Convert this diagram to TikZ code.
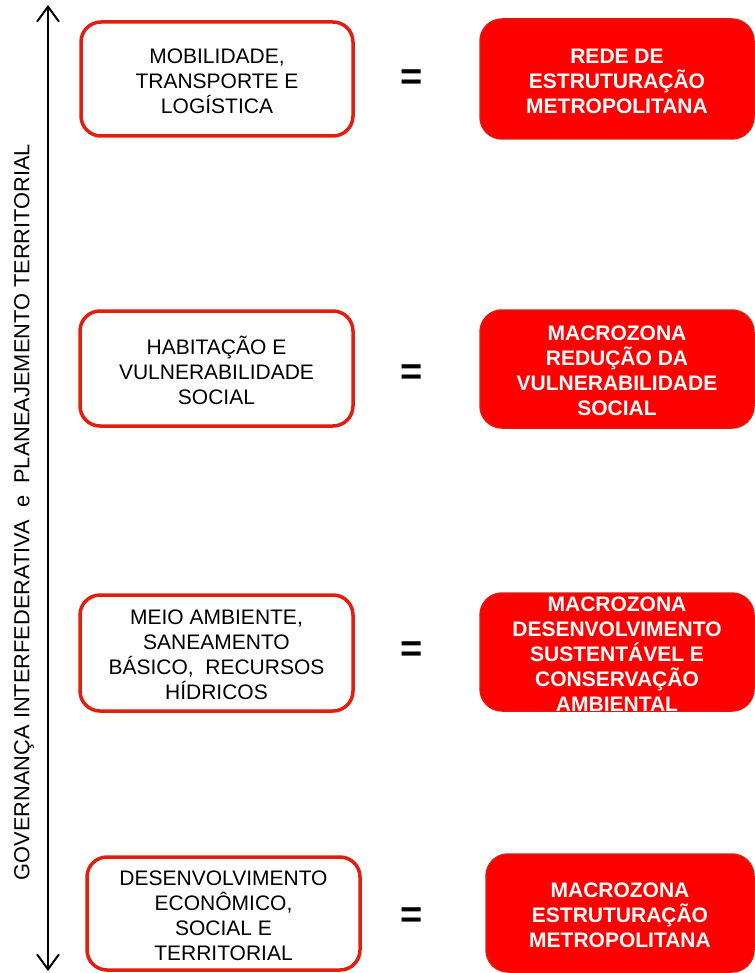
\documentclass[tikz,border=0pt]{standalone}
\usepackage{fontspec}
\setmainfont{Liberation Sans}
\usetikzlibrary{arrows.meta}
\definecolor{boxred}{RGB}{228,30,14}
\definecolor{fillred}{RGB}{255,0,0}
\definecolor{edgered}{RGB}{225,25,10}
\tikzset{
  leftbox/.style={draw=boxred, line width=3.5pt, rounded corners=20pt, fill=white, inner sep=0pt},
  redbox/.style={draw=edgered, fill=fillred, line width=1.5pt, rounded corners=22pt, inner sep=0pt},
  lefttext/.style={font=\fontsize{21}{25}\selectfont, align=center, inner sep=0pt, text=black, yshift=-2pt},
  redtext/.style={font=\fontsize{21}{25}\selectfont\bfseries, align=center, inner sep=0pt, text=white, yshift=-2pt},
  eqsign/.style={font=\fontsize{38}{38}\selectfont\bfseries, inner sep=0pt},
  axis/.style={line width=2pt, {Straight Barb[length=15pt,width=22pt,line width=2pt]}-{Straight Barb[length=15pt,width=22pt,line width=2pt]}},
  govtext/.style={font=\fontsize{21.8}{25}\selectfont, rotate=90, inner sep=0pt}
}
\begin{document}
\begin{tikzpicture}[x=1pt,y=-1pt]
\useasboundingbox (0,0) rectangle (754,973);
% axis
\coordinate (atop) at (48,5);
\coordinate (abot) at (48,971);
\draw[axis] (abot) -- (atop);
\node[govtext] (gov) at (24,512) {GOVERNANÇA INTERFEDERATIVA\ \ e\ \ PLANEAJEMENTO TERRITORIAL};
% row 1
\node[leftbox, minimum width=272pt, minimum height=114pt] (l1) at (217,79) {};
\node[lefttext] (l1t) at (l1.center) {MOBILIDADE,\\TRANSPORTE E\\LOGÍSTICA};
\node[eqsign] (e1) at (412,80) {=};
\node[redbox, minimum width=274pt, minimum height=120pt] (r1) at (617,79) {};
\node[redtext] (r1t) at (r1.center) {REDE DE\\ESTRUTURAÇÃO\\METROPOLITANA};
% row 2
\node[leftbox, minimum width=273pt, minimum height=115pt] (l2) at (216.5,368.5) {};
\node[lefttext] (l2t) at (l2.center) {HABITAÇÃO E\\VULNERABILIDADE\\SOCIAL};
\node[eqsign] (e2) at (412,375) {=};
\node[redbox, minimum width=274pt, minimum height=118pt] (r2) at (617,369) {};
\node[redtext] (r2t) at (r2.center) {MACROZONA\\REDUÇÃO DA\\VULNERABILIDADE\\SOCIAL};
% row 3
\node[leftbox, minimum width=273pt, minimum height=116pt] (l3) at (216.5,653) {};
\node[lefttext] (l3t) at (l3.center) {MEIO AMBIENTE,\\SANEAMENTO\\BÁSICO,\ \ RECURSOS\\HÍDRICOS};
\node[eqsign] (e3) at (412,652) {=};
\node[redbox, minimum width=274pt, minimum height=118pt] (r3) at (617,652) {};
\node[redtext] (r3t) at (r3.center) {MACROZONA\\DESENVOLVIMENTO\\SUSTENTÁVEL E\\CONSERVAÇÃO\\AMBIENTAL};
% row 4
\node[leftbox, minimum width=273pt, minimum height=113pt] (l4) at (223.5,913.5) {};
\node[lefttext] (l4t) at (l4.center) {DESENVOLVIMENTO\\ECONÔMICO,\\SOCIAL E\\TERRITORIAL};
\node[eqsign] (e4) at (412,918) {=};
\node[redbox, minimum width=268pt, minimum height=118pt] (r4) at (620,913) {};
\node[redtext] (r4t) at (r4.center) {MACROZONA\\ESTRUTURAÇÃO\\METROPOLITANA};
\end{tikzpicture}
\end{document}
